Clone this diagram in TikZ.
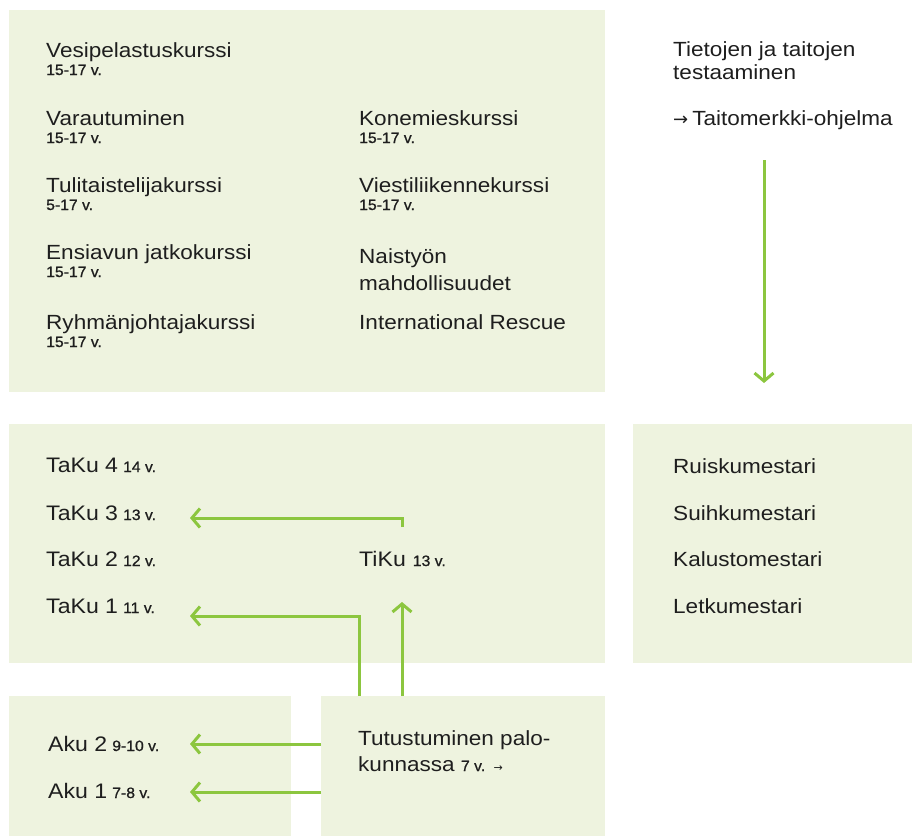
\documentclass[tikz,border=0pt]{standalone}
\usepackage{fontspec}
\setmainfont{Liberation Sans}[FakeStretch=1.1]
\newfontfamily\agefam{Liberation Sans}[FakeStretch=1.05, FakeBold=0.9]
\newfontfamily\symfam{DejaVu Sans}
\usetikzlibrary{arrows.meta}
\definecolor{boxbg}{HTML}{EEF3DF}
\definecolor{arrowgreen}{HTML}{8CC63F}
\definecolor{txt}{HTML}{1E1E1E}
\newcommand{\agesize}{\agefam\fontsize{15}{17}\selectfont}
\begin{document}
\begin{tikzpicture}[x=1pt,y=-1pt,
  panel/.style={fill=boxbg, draw=none, inner sep=0pt, outer sep=0pt},
  lbl/.style={anchor=base west, inner sep=0pt, text=txt, font=\fontsize{20.5}{24}\selectfont},
  big/.style={lbl, font=\fontsize{21}{24}\selectfont},
  age/.style={anchor=base west, inner sep=0pt, text=txt, font=\agesize},
  flow/.style={draw=arrowgreen, line width=3pt, line cap=butt,
    -{Straight Barb[length=8pt,width=19pt]}}
]
\useasboundingbox (0,0) rectangle (912,836);
% panels
\node[panel, minimum width=596pt, minimum height=382pt, anchor=north west] (p1) at (9,10) {};
\node[panel, minimum width=596pt, minimum height=239pt, anchor=north west] (p2) at (9,424) {};
\node[panel, minimum width=279pt, minimum height=239pt, anchor=north west] (p3) at (633,424) {};
\node[panel, minimum width=282pt, minimum height=140pt, anchor=north west] (p4) at (9,696) {};
\node[panel, minimum width=284pt, minimum height=140pt, anchor=north west] (p5) at (321,696) {};

% top panel, left column
\node[lbl] (c1) at (46,57) {Vesipelastuskurssi};
\node[age] (c1a) at (46,75) {15-17 v.};
\node[lbl] (c2) at (46,125) {Varautuminen};
\node[age] (c2a) at (46,143) {15-17 v.};
\node[lbl] (c3) at (46,192) {Tulitaistelijakurssi};
\node[age] (c3a) at (46,210) {5-17 v.};
\node[lbl] (c4) at (46,259) {Ensiavun jatkokurssi};
\node[age] (c4a) at (46,277) {15-17 v.};
\node[lbl] (c5) at (46,329) {Ryhmänjohtajakurssi};
\node[age] (c5a) at (46,347) {15-17 v.};
% top panel, right column
\node[lbl] (d1) at (359,125) {Konemieskurssi};
\node[age] (d1a) at (359,143) {15-17 v.};
\node[lbl] (d2) at (359,192) {Viestiliikennekurssi};
\node[age] (d2a) at (359,210) {15-17 v.};
\node[lbl] (d3) at (359,263) {Naistyön};
\node[lbl] (d3b) at (359,290) {mahdollisuudet};
\node[lbl] (d4) at (359,329) {International Rescue};

% testing column
\node[lbl] (e1) at (673,56) {Tietojen ja taitojen};
\node[lbl] (e1b) at (673,79) {testaaminen};
\node[lbl] (e2) at (673,125) {{\symfam\fontsize{18}{20}\selectfont →}\hspace{4pt}Taitomerkki-ohjelma};

% middle panel
\node[big] (taku4) at (46,472) {TaKu 4\hspace{5pt}{\agesize 14 v.}};
\node[big] (taku3) at (46,520) {TaKu 3\hspace{5pt}{\agesize 13 v.}};
\node[big] (taku2) at (46,566) {TaKu 2\hspace{5pt}{\agesize 12 v.}};
\node[big] (taku1) at (46,613) {TaKu 1\hspace{5pt}{\agesize 11 v.}};
\node[big] (tiku) at (359,566) {TiKu\hspace{7pt}{\agesize 13 v.}};

% right panel
\node[lbl] (m1) at (673,473) {Ruiskumestari};
\node[lbl] (m2) at (673,520) {Suihkumestari};
\node[lbl] (m3) at (673,566) {Kalustomestari};
\node[lbl] (m4) at (673,613) {Letkumestari};

% bottom panels
\node[big] (aku2) at (48,751) {Aku 2\hspace{5pt}{\agesize 9-10 v.}};
\node[big] (aku1) at (48,798) {Aku 1\hspace{5pt}{\agesize 7-8 v.}};
\node[lbl] (tut1) at (358,745) {Tutustuminen palo-};
\node[lbl] (tut2) at (358,771) {kunnassa {\agesize 7 v.} {\symfam\fontsize{11}{13}\selectfont →}};

% connector end points
\coordinate (downStart) at (764,160);
\coordinate (downEnd) at (764,383);
\coordinate (tikuTop) at (402,527);
\coordinate (t3end) at (190,518);
\coordinate (t1start) at (359,696);
\coordinate (t1end) at (190,616);
\coordinate (upStart) at (402,696);
\coordinate (upEnd) at (402,602);
\coordinate (a2start) at (321,744);
\coordinate (a2end) at (190,744);
\coordinate (a1start) at (321,792);
\coordinate (a1end) at (190,792);

% connectors
\draw[flow] (downStart) -- (downEnd);
\draw[flow] (tikuTop) |- (t3end);
\draw[flow] (t1start) |- (t1end);
\draw[flow] (upStart) -- (upEnd);
\draw[flow] (a2start) -- (a2end);
\draw[flow] (a1start) -- (a1end);
\end{tikzpicture}
\end{document}
